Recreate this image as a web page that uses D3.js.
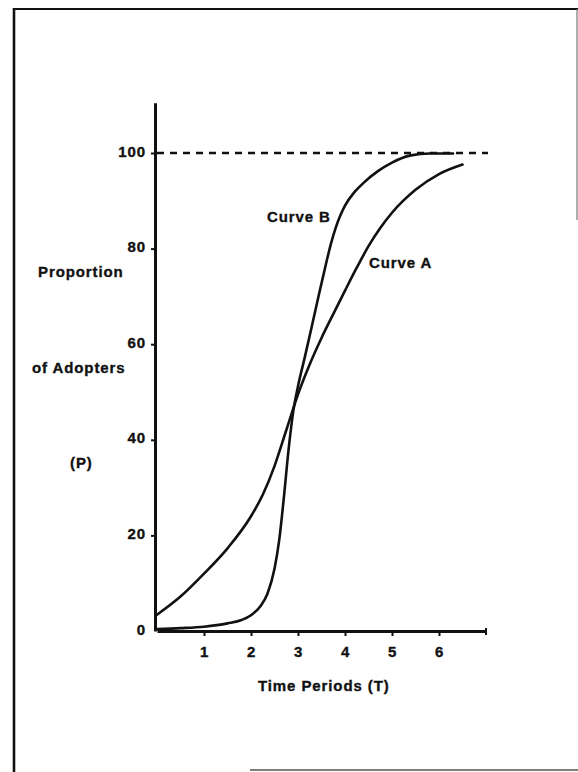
<!DOCTYPE html>
<html>
<head>
<meta charset="utf-8">
<script src="https://cdn.jsdelivr.net/npm/d3@7/dist/d3.min.js"></script>
<style>
  html, body { margin: 0; padding: 0; background: #fff; }
  svg { display: block; }
  text { font-family: "Liberation Sans", Arial, sans-serif; font-weight: bold; fill: #111; letter-spacing: 0.9px;
         stroke: #111; stroke-width: 0.35px; }
</style>
</head>
<body>
<svg id="chart" width="578" height="772"></svg>
<script>
// Time periods (T) and proportion of adopters (P, %) for the two diffusion curves
const curveA = [
  [0, 3.4], [0.5, 7.2], [1, 12], [1.5, 17.3], [2, 24], [2.25, 28.5], [2.5, 34.5],
  [2.75, 42], [3, 49.5], [3.25, 55.8], [3.5, 61.3], [3.75, 66.3], [4, 71.2],
  [4.25, 76], [4.5, 80.5], [4.75, 84.3], [5, 87.5], [5.5, 92.3], [6, 95.6], [6.5, 97.6]
];
const curveB = [
  [0, 0.4], [0.5, 0.6], [1, 0.9], [1.5, 1.6], [1.8, 2.3], [2, 3.3], [2.2, 5.2],
  [2.35, 7.8], [2.5, 13], [2.6, 19], [2.7, 28], [2.8, 38], [2.9, 46], [3, 51.2],
  [3.15, 57.5], [3.3, 64], [3.45, 70.6], [3.6, 77], [3.7, 81], [3.8, 84.3],
  [3.9, 86.9], [4, 89], [4.2, 91.8], [4.4, 93.8], [4.7, 96.2], [5, 98], [5.4, 99.5],
  [5.8, 99.9], [6.3, 99.9]
];
const saturation = 100;                 // ceiling shown by the dashed line
const xTicks = [1, 2, 3, 4, 5, 6];
const yTicks = [0, 20, 40, 60, 80, 100];
const xMax = 7;
const yMax = 110.5;

const svg = d3.select("#chart");

const x = d3.scaleLinear().domain([0, xMax]).range([157, 486]);
const y = d3.scaleLinear().domain([0, 100]).range([631, 153]);

// page frame
const frame = svg.append("g").attr("stroke", "#111").attr("fill", "none");
frame.append("line").attr("x1", 14).attr("y1", 8).attr("x2", 14).attr("y2", 772).attr("stroke-width", 2.6);
frame.append("line").attr("x1", 13).attr("y1", 9).attr("x2", 578).attr("y2", 9).attr("stroke-width", 2);
frame.append("line").attr("x1", 577).attr("y1", 9).attr("x2", 577).attr("y2", 220).attr("stroke-width", 1.2).attr("stroke", "#777");
frame.append("line").attr("x1", 250).attr("y1", 770).attr("x2", 578).attr("y2", 770).attr("stroke-width", 1.4).attr("stroke", "#555");

// x axis
const xAxis = svg.append("g")
  .attr("transform", `translate(0,${y(0)})`)
  .call(d3.axisBottom(x).tickValues(xTicks).tickSize(5).tickSizeOuter(0).tickPadding(10).tickFormat(d3.format("d")));
xAxis.select(".domain").attr("stroke", "#111").attr("stroke-width", 2.8);
xAxis.selectAll(".tick line").attr("stroke", "#111").attr("stroke-width", 2);
xAxis.selectAll(".tick text").attr("font-size", 15).attr("fill", "#111")
  .attr("font-family", null).attr("dy", "0.75em");
xAxis.append("line").attr("x1", x(xMax)).attr("x2", x(xMax)).attr("y1", -3).attr("y2", 4)
  .attr("stroke", "#111").attr("stroke-width", 2);

// y axis
const yAxisScale = d3.scaleLinear().domain([0, yMax]).range([y(0), y(yMax)]);
const yAxis = svg.append("g")
  .attr("transform", `translate(${x(0) - 2},0)`)
  .call(d3.axisLeft(yAxisScale).tickValues(yTicks).tickSize(4).tickSizeOuter(0).tickPadding(5));
yAxis.select(".domain").attr("stroke", "#111").attr("stroke-width", 3);
yAxis.selectAll(".tick line").attr("stroke", "#111").attr("stroke-width", 2)
  .attr("opacity", d => d === 0 ? 0 : 1);
yAxis.selectAll(".tick text").attr("font-size", 15).attr("fill", "#111")
  .attr("font-family", null).attr("dy", "0.2em");

// saturation level
svg.append("line")
  .attr("x1", x(0)).attr("x2", x(xMax) + 2)
  .attr("y1", y(saturation)).attr("y2", y(saturation))
  .attr("stroke", "#111").attr("stroke-width", 2.4).attr("stroke-dasharray", "7,6");

// curves
const line = d3.line().x(d => x(d[0])).y(d => y(d[1])).curve(d3.curveMonotoneX);
[curveA, curveB].forEach(data => {
  svg.append("path").datum(data).attr("d", line)
    .attr("fill", "none").attr("stroke", "#111").attr("stroke-width", 2.6)
    .attr("stroke-linecap", "round").attr("stroke-linejoin", "round");
});

// labels
const labels = [
  { text: "Curve B", x: 267, y: 222 },
  { text: "Curve A", x: 369, y: 268 },
  { text: "Proportion", x: 38, y: 277 },
  { text: "of Adopters", x: 32, y: 373 },
  { text: "(P)", x: 70, y: 468 },
  { text: "Time Periods (T)", x: 258, y: 691 }
];
svg.append("g").selectAll("text").data(labels).join("text")
  .attr("x", d => d.x).attr("y", d => d.y).attr("font-size", 15).text(d => d.text);
</script>
</body>
</html>
